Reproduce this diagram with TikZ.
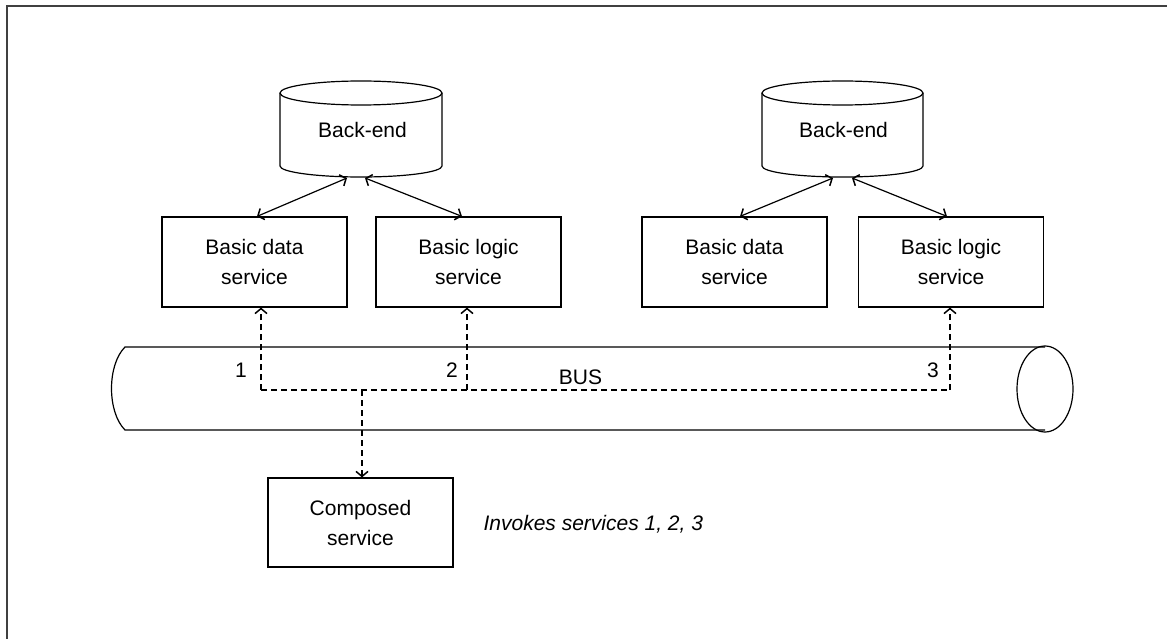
\documentclass[tikz,border=0pt]{standalone}
\usepackage{fontspec}
\setmainfont{Liberation Sans}
\usetikzlibrary{arrows.meta}
\begin{document}
\begin{tikzpicture}[x=1pt,y=1pt,yscale=-1,
  line width=1.2pt,
  svcbox/.style={draw, rectangle, minimum width=185pt, minimum height=90pt, align=center, inner sep=0pt, font=\fontsize{21}{30}\selectfont},
  lbl/.style={inner sep=0pt, font=\fontsize{21}{25}\selectfont},
  arrowtip/.style={-{Straight Barb[length=5pt,width=12pt,line width=1.5pt]}},
  bothtips/.style={{Straight Barb[length=5pt,width=12pt,line width=1.5pt]}-{Straight Barb[length=5pt,width=12pt,line width=1.5pt]}},
  dashlink/.style={line width=1.3pt, dash pattern=on 6pt off 4pt}
]
\useasboundingbox (0,0) rectangle (1167,639);
% frame
\draw[gray!50!black, line width=2pt] (7,639) -- (7,6) -- (1167,6);

% back-end cylinders
\draw (280,93) -- (280,166) arc[start angle=180, end angle=0, x radius=81, y radius=11] -- (442,93);
\draw (361,93) ellipse [x radius=81, y radius=12];
\node[lbl] (be1) at (362.5,129.5) {Back-end};

\draw (762,93) -- (762,166) arc[start angle=180, end angle=0, x radius=80.5, y radius=11] -- (923,93);
\draw (842.5,93) ellipse [x radius=80.5, y radius=12];
\node[lbl] (be2) at (843.5,129.5) {Back-end};

% service boxes
\node[svcbox] (bds1) at (254.5,262) {Basic data\\service};
\node[svcbox] (bls1) at (468.5,262) {Basic logic\\service};
\node[svcbox] (bds2) at (734.5,262) {Basic data\\service};
\node[svcbox] (bls2) at (951,262) {Basic logic\\service};
\node[svcbox, minimum height=89pt] (comp) at (360.5,522.5) {Composed\\service};

% back-end arrows
\coordinate (be1l) at (347,178);
\coordinate (be1r) at (365,178);
\coordinate (be2l) at (833,178);
\coordinate (be2r) at (852,178);
\draw[bothtips] (be1l) -- ([xshift=2.5pt]bds1.north);
\draw[bothtips] (be1r) -- ([xshift=-6.5pt]bls1.north);
\draw[bothtips] (be2l) -- ([xshift=5.5pt]bds2.north);
\draw[bothtips] (be2r) -- ([xshift=-4pt]bls2.north);

% bus
\draw (1045,347) -- (125,347) .. controls (107,365) and (107,412) .. (125,430) -- (1045,430);
\draw (1045,389) ellipse [x radius=28, y radius=43];
\node[lbl] (bus) at (580.5,377) {BUS};
\node[lbl] (n1) at (241,370) {1};
\node[lbl] (n2) at (452,370) {2};
\node[lbl] (n3) at (933,370) {3};

% dashed invocation lines
\coordinate (j1) at (261,390);
\coordinate (j2) at (467,390);
\coordinate (j3) at (950,390);
\coordinate (jd) at (362,390);
\draw[dashlink] (j1) -- (j3);
\draw[dashlink, arrowtip] (j1) -- ([xshift=6.5pt]bds1.south);
\draw[dashlink, arrowtip] (j2) -- ([xshift=-1.5pt]bls1.south);
\draw[dashlink, arrowtip] (j3) -- ([xshift=-1pt]bls2.south);
\draw[dashlink, arrowtip] (jd) -- ([xshift=1.5pt]comp.north);

\node[lbl, anchor=base west, font=\fontsize{21}{25}\selectfont\itshape] (inv) at (483,530) {Invokes services 1, 2, 3};
\end{tikzpicture}
\end{document}
